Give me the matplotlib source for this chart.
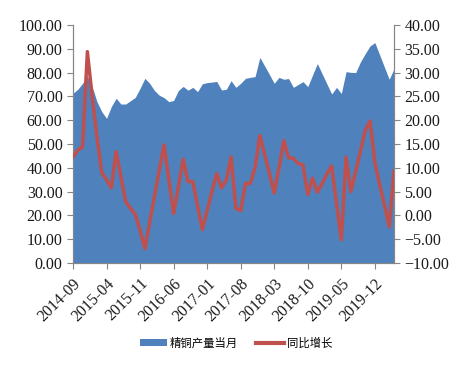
import matplotlib
matplotlib.use("Agg")
import matplotlib.pyplot as plt
from matplotlib.lines import Line2D
from matplotlib.patches import Patch
import numpy as np

months = [f"{y}-{m:02d}" for y in range(2014, 2021) for m in range(1, 13)]
months = months[months.index("2014-09"):months.index("2020-04") + 1]

output = [71.3, 73.0, 75.5, 78.5, 74.0, 67.8, 63.6, 60.8, 65.7, 69.2,
          66.8, 66.8, 68.2, 69.6, 73.4, 77.6, 75.5, 72.5, 70.5, 69.5,
          67.8, 68.3, 72.5, 74.2, 72.6, 73.8, 72.0, 75.3, 75.8, 76.0,
          76.3, 72.7, 73.0, 76.6, 73.8, 75.5, 77.6, 78.0, 78.3, 86.4,
          82.8, 79.2, 75.5, 78.0, 77.2, 77.5, 73.8, 75.0, 76.2, 74.1,
          79.0, 83.8, 79.5, 75.2, 71.0, 73.8, 71.2, 80.4, 80.1, 80.0,
          84.5, 88.0, 91.2, 92.6, 87.5, 82.3, 77.2, 81.6]

yoy = [12.3, 13.7, 14.4, 34.4, 25.0, 16.5, 9.0, 7.5, 5.8, 13.4,
       8.1, 2.9, 1.5, 0.2, -3.1, -7.0, -1.5, 4.0, 9.5, 14.8,
       7.6, 0.4, 6.0, 11.8, 7.1, 7.1, 2.0, -3.0, 1.0, 5.0,
       8.8, 5.8, 7.4, 12.3, 1.5, 1.0, 6.7, 6.7, 10.0, 16.8,
       12.8, 8.8, 4.7, 10.0, 15.7, 12.1, 12.0, 10.9, 10.6, 4.4,
       7.8, 4.9, 6.7, 8.7, 10.4, 2.5, -5.1, 12.2, 5.0, 9.2,
       13.5, 17.9, 19.8, 11.2, 6.5, 2.2, -2.4, 9.3]

series_names = ["精铜产量当月", "同比增长"]
left_ticks = [0, 10, 20, 30, 40, 50, 60, 70, 80, 90, 100]
right_ticks = [-10, -5, 0, 5, 10, 15, 20, 25, 30, 35, 40]

blue = "#4F81BD"
red = "#C0504D"
axis_gray = "#868686"
num_font = {"family": ["Liberation Serif", "DejaVu Serif"], "size": 11.5}
cjk = ["Noto Sans CJK SC", "DejaVu Sans"]

fig = plt.figure(figsize=(4.67, 3.66), dpi=100)
ax = fig.add_axes([73 / 467, 1 - 263 / 366, (394 - 73) / 467, (263 - 25) / 366])
x = np.arange(len(months))
ax.fill_between(x, 0, output, color=blue, linewidth=0, zorder=1)
ax.set_xlim(0, len(months) - 1)
ax.set_ylim(0, 100)
ax.set_yticks(left_ticks)
ax.set_yticklabels([f"{v:.2f}" for v in left_ticks], fontdict=num_font)
xt = list(range(0, len(months), 7))
ax.set_xticks(xt)
ax.set_xticklabels([months[i] for i in xt], fontdict=num_font, rotation=45,
                   ha="right", va="top", rotation_mode="anchor")

ax2 = ax.twinx()
ax2.plot(x, yoy, color=red, linewidth=2.5, solid_joinstyle="round", zorder=3)
ax2.set_ylim(-10, 40)
ax2.set_yticks(right_ticks)
ax2.set_yticklabels([f"{v:.2f}".replace("-", "\u2212") for v in right_ticks], fontdict=num_font)

for a in (ax, ax2):
    for s in a.spines.values():
        s.set_color(axis_gray)
        s.set_linewidth(0.8)
    a.spines["top"].set_visible(False)
    a.tick_params(colors=axis_gray, labelcolor="#1a1a1a", length=4, width=0.8, direction="out")
ax.tick_params(axis="x", pad=5)

handles = [Patch(facecolor=blue, edgecolor="none"),
           Line2D([0], [0], color=red, linewidth=3)]
leg = fig.legend(handles, series_names, loc="center", bbox_to_anchor=(0.505, 0.063),
                 ncol=2, frameon=False, prop={"family": cjk, "size": 8.2},
                 handlelength=2.4, handleheight=0.45, columnspacing=1.6, handletextpad=0.25)

fig.savefig("out.png", dpi=100)
